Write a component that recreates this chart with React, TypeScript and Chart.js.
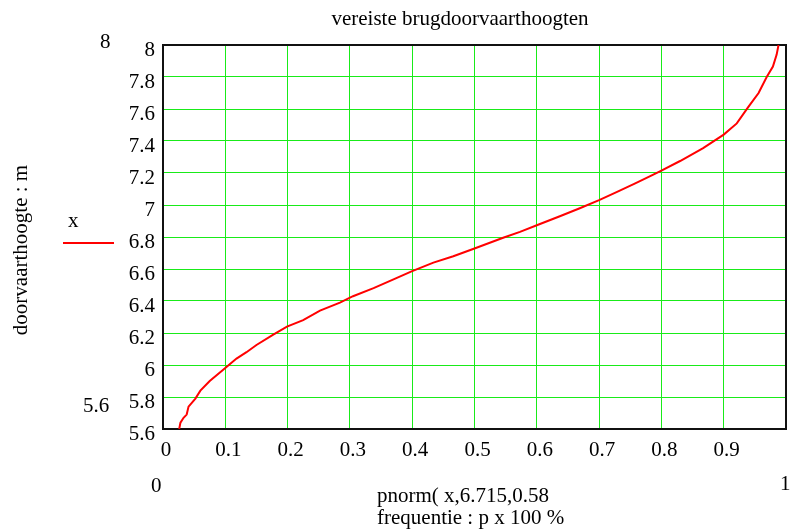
import React, { useEffect, useRef } from "react";
import { Chart, registerables } from "chart.js";

Chart.register(...registerables);

// frequency (pnorm) values
const pValues = [
  0.026, 0.028, 0.033, 0.038, 0.041, 0.052, 0.06, 0.075, 0.0995, 0.118, 0.134,
  0.15, 0.177, 0.199, 0.225, 0.252, 0.284, 0.305, 0.338, 0.37, 0.399, 0.434,
  0.466, 0.501, 0.546, 0.573, 0.601, 0.637, 0.669, 0.7, 0.728, 0.758, 0.787,
  0.8, 0.83, 0.867, 0.9, 0.921, 0.939, 0.956, 0.969, 0.979, 0.985, 0.988,
];
// required clearance heights (m)
const hValues = [
  5.6, 5.64, 5.67, 5.69, 5.74, 5.79, 5.84, 5.9, 5.98, 6.04, 6.08, 6.125, 6.19,
  6.24, 6.28, 6.34, 6.39, 6.43, 6.48, 6.535, 6.585, 6.64, 6.68, 6.73, 6.795,
  6.832, 6.875, 6.93, 6.98, 7.03, 7.08, 7.135, 7.19, 7.215, 7.275, 7.355, 7.44,
  7.51, 7.61, 7.7, 7.8, 7.865, 7.94, 8.0,
];

const titleText = "vereiste brugdoorvaarthoogten";
const yTitle = "doorvaarthoogte : m";
const xTitle1 = "pnorm( x,6.715,0.58";
const xTitle2 = "frequentie : p x 100 %";
const legendLabel = "x";
const yMin = 5.6;
const yMax = 8;
const xMin = 0;
const xMax = 1;

const FONT = "Liberation Serif, Times New Roman, serif";
const GREEN = "rgb(25,235,25)";

export default function App() {
  const ref = useRef<HTMLCanvasElement | null>(null);

  useEffect(() => {
    const canvas = ref.current;
    if (!canvas) return;

    const extras = {
      id: "extras",
      beforeDatasetsDraw(chart: any) {
        const { ctx, chartArea } = chart;
        ctx.save();
        ctx.strokeStyle = "#111";
        ctx.lineWidth = 2;
        ctx.strokeRect(
          chartArea.left,
          chartArea.top,
          chartArea.right - chartArea.left,
          chartArea.bottom - chartArea.top
        );
        ctx.restore();
      },
      afterDraw(chart: any) {
        const ctx = chart.ctx;
        ctx.save();
        ctx.fillStyle = "#000";
        ctx.font = `21px ${FONT}`;
        ctx.textBaseline = "alphabetic";
        ctx.textAlign = "center";
        ctx.fillText(titleText, 460, 25);

        ctx.textAlign = "left";
        ctx.fillText(String(yMax), 100, 48);
        ctx.fillText(String(yMin), 83, 412);
        ctx.fillText(String(xMin), 151, 492);
        ctx.fillText(String(xMax), 780, 490);
        ctx.fillText(legendLabel, 68, 227);
        ctx.fillText(xTitle1, 377, 502);
        ctx.fillText(xTitle2, 377, 524);

        ctx.strokeStyle = "red";
        ctx.lineWidth = 2;
        ctx.beginPath();
        ctx.moveTo(63, 243);
        ctx.lineTo(114, 243);
        ctx.stroke();

        ctx.translate(27, 250);
        ctx.rotate(-Math.PI / 2);
        ctx.textAlign = "center";
        ctx.fillText(yTitle, 0, 0);
        ctx.restore();
      },
    };

    const chart = new Chart(canvas, {
      type: "line",
      data: {
        datasets: [
          {
            label: legendLabel,
            data: pValues.map((p, i) => ({ x: p, y: hValues[i] })),
            borderColor: "red",
            borderWidth: 2,
            pointRadius: 0,
            tension: 0,
            fill: false,
          },
        ],
      },
      options: {
        animation: false,
        responsive: false,
        devicePixelRatio: 1,
        maintainAspectRatio: false,
        layout: { padding: { left: 0, right: 4, top: 45, bottom: 0 } },
        plugins: {
          legend: { display: false },
          title: { display: false },
          tooltip: { enabled: false },
        },
        scales: {
          x: {
            type: "linear",
            min: xMin,
            max: xMax,
            afterFit: (s: any) => {
              s.height = 102;
              s.paddingLeft = 0;
              s.paddingRight = 0;
            },
            grid: { color: GREEN, lineWidth: 1, drawTicks: false },
            border: { display: false },
            ticks: {
              stepSize: 0.1,
              padding: 9,
              labelOffset: 3,
              maxRotation: 0,
              autoSkip: false,
              color: "#000",
              font: { family: FONT, size: 21 },
              callback: (v: any) => {
                const n = Math.round(Number(v) * 10) / 10;
                return n >= 1 ? "" : String(n);
              },
            },
          },
          y: {
            min: yMin,
            max: yMax,
            afterFit: (s: any) => {
              s.width = 163;
              s.paddingTop = 0;
              s.paddingBottom = 0;
            },
            grid: { color: GREEN, lineWidth: 1, drawTicks: false },
            border: { display: false },
            ticks: {
              stepSize: 0.2,
              padding: 8,
              labelOffset: 5,
              autoSkip: false,
              color: "#000",
              font: { family: FONT, size: 21 },
              callback: (v: any) => String(Math.round(Number(v) * 10) / 10),
            },
          },
        },
      },
      plugins: [extras],
    });

    return () => chart.destroy();
  }, []);

  return (
    <div style={{ position: "absolute", left: 0, top: 0, width: 790, height: 531, background: "#fff" }}>
      <canvas ref={ref} width={790} height={531} style={{ width: 790, height: 531, display: "block" }} />
    </div>
  );
}
